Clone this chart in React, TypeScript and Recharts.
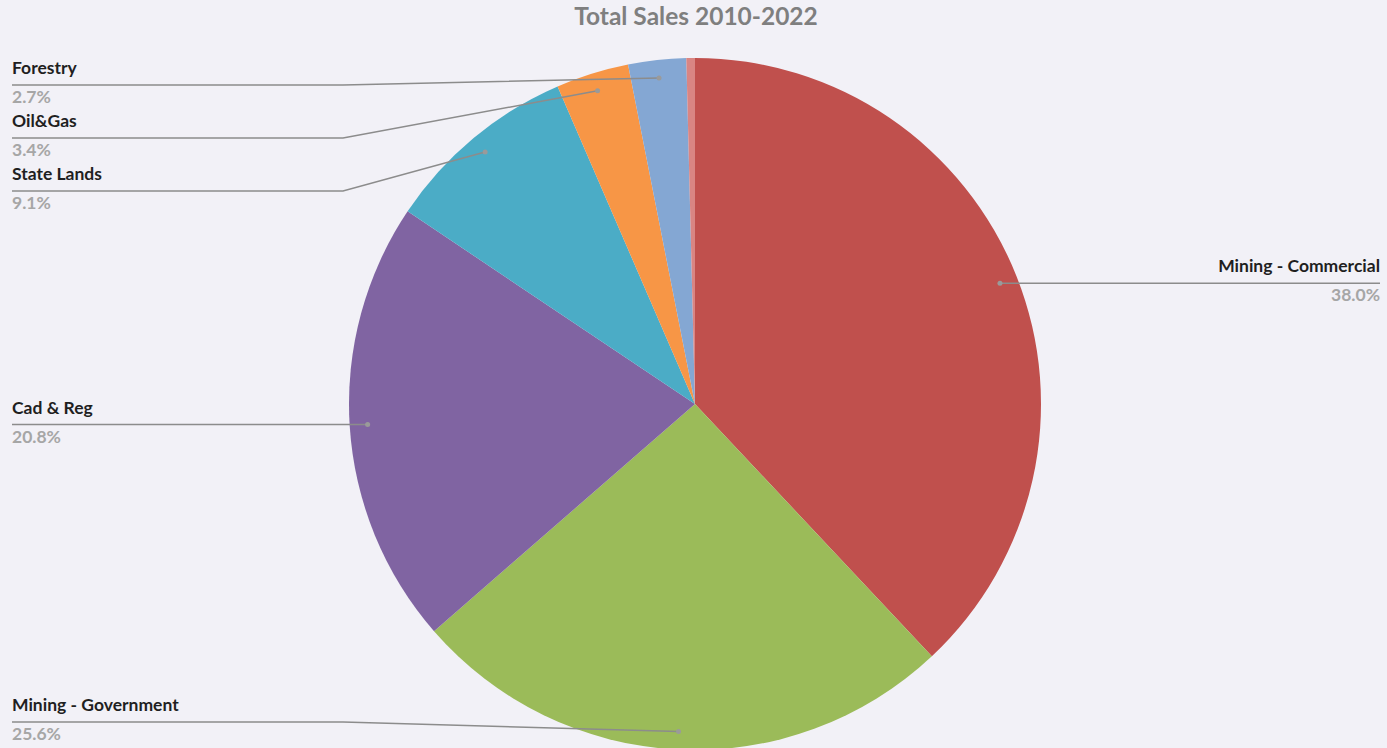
import { PieChart, Pie, Cell } from "recharts";

const categories = [
  "Mining - Commercial",
  "Mining - Government",
  "Cad & Reg",
  "State Lands",
  "Oil&Gas",
  "Forestry",
  "Other",
];
const shares = [38.0, 25.6, 20.8, 9.1, 3.4, 2.7, 0.4];
const colors = ["#c0504d", "#9bbb59", "#8064a2", "#4bacc6", "#f79646", "#84a7d3", "#d98583"];

const data = categories.map((name, i) => ({ name, value: shares[i] }));

const W = 1387;
const H = 748;
const CX = 695;
const CY = 404;
const R = 346;
const DOT_R = R * 0.948;
const RADIAN = Math.PI / 180;
const START = 90;
const LEFT_X = 12;
const RIGHT_X = 1380;
const ELBOW_X = 343;
const GAP = 53;
const TOP_Y = 85;
const BOTTOM_Y = 722;
const FONT = "Lato, 'Open Sans', sans-serif";

// work out where each leader line ends so left-side labels don't overlap
function layoutLabels() {
  const total = shares.reduce((a, b) => a + b, 0);
  let acc = 0;
  const dots = shares.map((v, i) => {
    const mid = START - ((acc + v / 2) / total) * 360;
    acc += v;
    return {
      i,
      x: CX + DOT_R * Math.cos(-mid * RADIAN),
      y: CY + DOT_R * Math.sin(-mid * RADIAN),
    };
  });
  const ys: number[] = dots.map((d) => d.y);
  const left = dots.filter((d) => d.x < CX && shares[d.i] >= 1).sort((a, b) => a.y - b.y);
  let prev = -Infinity;
  left.forEach((d) => {
    const y = Math.min(BOTTOM_Y, Math.max(d.y, prev + GAP, TOP_Y));
    ys[d.i] = y;
    prev = y;
  });
  return ys;
}

const labelYs = layoutLabels();

function renderLabel(props: any) {
  const { cx, cy, midAngle, index, name, percent } = props;
  if (percent < 0.01) return null;
  const dx = cx + DOT_R * Math.cos(-midAngle * RADIAN);
  const dy = cy + DOT_R * Math.sin(-midAngle * RADIAN);
  const right = dx > cx;
  const ly = right ? dy : labelYs[index];
  const tx = right ? RIGHT_X : LEFT_X;
  const path = right
    ? `M${dx},${dy} L${RIGHT_X},${ly}`
    : Math.abs(ly - dy) < 1
    ? `M${dx},${dy} L${LEFT_X},${ly}`
    : `M${dx},${dy} L${ELBOW_X},${ly} L${LEFT_X},${ly}`;
  return (
    <g key={`lbl-${index}`}>
      <path d={path} stroke="#8c8c8c" strokeWidth={1.5} fill="none" />
      <circle cx={dx} cy={dy} r={2.5} fill="#9a9a9a" />
      <text
        x={tx}
        y={ly - 11}
        textAnchor={right ? "end" : "start"}
        fontSize={17.5}
        fontWeight={700}
        fill="#1f1f1f"
        fontFamily={FONT}
      >
        {name}
      </text>
      <text
        x={tx}
        y={ly + 18}
        textAnchor={right ? "end" : "start"}
        fontSize={17.5}
        fontWeight={700}
        fill="#a6a6a6"
        fontFamily={FONT}
      >
        {(percent * 100).toFixed(1)}%
      </text>
    </g>
  );
}

export default function App() {
  return (
    <div
      style={{
        position: "fixed",
        left: 0,
        top: 0,
        width: W,
        height: H,
        background: "#f2f1f7",
        overflow: "hidden",
      }}
    >
      <div
        style={{
          position: "absolute",
          top: 0,
          left: 0,
          width: 1392,
          textAlign: "center",
          fontFamily: FONT,
          fontWeight: 700,
          fontSize: 24.5,
          color: "#7f7f7f",
          lineHeight: "32px",
        }}
      >
        Total Sales 2010-2022
      </div>
      <PieChart
        width={W}
        height={H}
        margin={{ top: 0, right: 0, bottom: 0, left: 0 }}
        style={{ position: "absolute", left: 0, top: 0 }}
      >
        <Pie
          data={data}
          dataKey="value"
          nameKey="name"
          cx={CX}
          cy={CY}
          outerRadius={R}
          startAngle={START}
          endAngle={START - 360}
          stroke="none"
          label={renderLabel}
          labelLine={false}
          isAnimationActive={false}
        >
          {data.map((d, i) => (
            <Cell key={d.name} fill={colors[i]} />
          ))}
        </Pie>
      </PieChart>
    </div>
  );
}
